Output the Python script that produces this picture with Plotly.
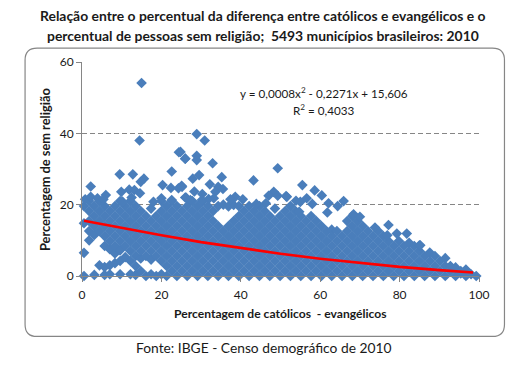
import plotly.graph_objects as go

# Dense body of the cloud
column_x = [0.5, 1.8, 3.1, 4.4, 5.7, 7.0, 8.3, 9.6, 10.9, 12.2, 13.5, 14.8, 16.1, 17.4, 18.7, 20.0, 21.3, 22.6, 23.9,
            25.2, 26.5, 27.8, 29.1, 30.4, 31.7, 33.0, 34.3, 35.6, 36.9, 38.2, 39.5, 40.8, 42.1, 43.4, 44.7, 46.0, 47.3,
            48.6, 49.9, 51.2, 52.5, 53.8, 55.1, 56.4, 57.7, 59.0, 60.3, 61.6, 62.9, 64.2, 65.5, 66.8, 68.1, 69.4, 70.7,
            72.0, 73.3, 74.6, 75.9, 77.2, 78.5, 79.8, 81.1, 82.4, 83.7, 85.0, 86.3, 87.6, 88.9, 90.2, 91.5, 92.8, 94.1,
            95.4, 96.7, 98.0, 99.3]
column_y = [
    [0, 6.5, 14.8, 19.6],
    [10, 12.6, 15.4, 18.2, 21],
    [0.3, 11.5, 14, 16.8, 19.6],
    [3, 12.6, 15.4, 18.2, 21],
    [0.3, 2.5, 8.4, 11.2, 14, 16.8, 19.6],
    [0.5, 3, 7.5, 9.8, 12.6, 15.4, 18.2],
    [3.6, 6.3, 8.4, 11.2, 14, 16.8, 19.6],
    [0.5, 4.2, 7.2, 9.8, 12.6, 15.4, 18.2, 21],
    [5.3, 8.4, 11.2, 14, 16.8, 19.6],
    [0.5, 4.2, 7, 9.8, 12.6, 15.4, 18.2, 21],
    [0.3, 2.8, 5.6, 8.4, 11.2, 14, 16.8, 19.6],
    [1.4, 4.9, 7, 9.8, 12.6, 15.4, 18.2],
    [0, 5.6, 8.4, 11.2, 14, 16.8],
    [0.5, 4.6, 7, 9.8, 12.6, 15.4, 18.9],
    [0, 5.6, 8.4, 11.2, 14, 16.8],
    [0.5, 4.2, 7, 9.8, 12.6, 15.4, 18.2, 21],
    [0, 2.8, 5.6, 8.4, 11.2, 14, 16.8, 19.6],
    [1.4, 4.2, 7, 9.8, 12.6, 15.4, 18.2, 21],
    [0, 2.8, 5.6, 8.4, 11.2, 14, 16.8, 19.6],
    [1.4, 4.2, 7, 9.8, 12.6, 15.4, 18.2],
    [0, 2.8, 5.6, 8.4, 11.2, 14, 16.8, 19.6],
    [1.4, 4.2, 7, 9.8, 12.6, 15.4, 18.2, 21],
    [0, 2.8, 5.6, 8.4, 11.2, 14, 16.8, 19.6],
    [1.4, 4.2, 7, 9.8, 12.6, 15.4, 18.2, 21],
    [0, 2.8, 5.6, 8.4, 11.2, 14, 16.8, 19.6],
    [1.4, 4.2, 7, 9.8, 12.6, 15.4, 18.2],
    [0, 2.8, 5.6, 8.4, 11.2, 14, 19.6],
    [1.4, 4.2, 7, 9.8, 12.6, 20],
    [0, 2.8, 5.6, 8.4, 11.2, 14, 19.5],
    [1.4, 4.2, 7, 9.8, 12.6, 15.4, 19.9],
    [0, 2.8, 5.6, 8.4, 11.2, 14, 16.8, 19.6],
    [1.4, 4.2, 7, 9.8, 12.6, 15.4, 18.2],
    [0, 2.8, 5.6, 8.4, 11.2, 14, 16.8, 19.6],
    [1.4, 4.2, 7, 9.8, 12.6, 15.4, 18.2],
    [0, 2.8, 5.6, 8.4, 11.2, 14, 16.8, 19.6],
    [1.4, 4.2, 7, 9.8, 12.6, 15.4, 18.2],
    [0, 2.8, 5.6, 8.4, 11.2, 14, 16.8],
    [1.4, 4.2, 7, 9.8, 12.6, 15.4, 18.9],
    [0, 2.8, 5.6, 8.4, 11.2, 14, 16.8],
    [1.4, 4.2, 7, 9.8, 12.6, 15.4, 18.2],
    [0, 2.8, 5.6, 8.4, 11.2, 14, 16.8, 19.6],
    [1.4, 4.2, 7, 9.8, 12.6, 15.4, 18.2],
    [0, 2.8, 5.6, 8.4, 11.2, 14, 16.8],
    [1.4, 4.2, 7, 9.8, 12.6, 15.4],
    [0, 2.8, 5.6, 8.4, 11.2, 14, 16.8],
    [1.4, 4.2, 7, 9.8, 12.6, 15.4],
    [0, 2.8, 5.6, 8.4, 11.2, 14],
    [1.4, 4.2, 7, 9.8, 12.6],
    [0, 2.8, 5.6, 8.4, 11.2, 13],
    [1.4, 4.2, 7, 9.8, 12.6],
    [0, 2.8, 5.6, 8.4, 11.2],
    [1.4, 4.2, 7, 9.8, 12.6, 15.4],
    [0, 2.8, 5.6, 8.4, 11.2, 14, 16.8],
    [1.4, 4.2, 7, 9.8, 12.6, 15.4],
    [0, 2.8, 5.6, 8.4, 11.2, 14],
    [1.4, 4.2, 7, 9.8, 12.6],
    [0, 2.8, 5.6, 8.4, 11.2],
    [1.4, 4.2, 7, 9.8, 12.6],
    [0, 2.8, 5.6, 8.4, 11.2],
    [1.4, 4.2, 7, 9.8],
    [0, 2.8, 5.6, 8.4],
    [1.4, 4.2, 7, 9.8],
    [0, 2.8, 5.6, 8.4],
    [1.4, 4.2, 7, 9.3],
    [0, 2.8, 5.6, 8.4],
    [1.4, 4.2, 7, 8.6],
    [0, 2.8, 5.6],
    [1.4, 4.2, 6.6],
    [0, 2.8, 5.6],
    [1.4, 4.2],
    [0, 2.8, 5],
    [1.4, 2.8],
    [0, 2.4],
    [0.7, 1.4],
    [0, 1.8],
    [0.5],
    [0],
]

# Individually visible diamonds above the cloud
outlier_x = [15.0, 14.5, 9.5, 12.8, 15.6, 14.8, 22.6, 24.4, 26.0, 2.2, 9.9, 11.9, 13.2, 14.6, 20.3, 22.4, 24.3, 25.1,
             12.5, 10.2, 0.8, 2.2, 3.9, 6.0, 5.4, 18.0, 20.0, 22.6, 26.0, 28.9, 30.9, 26.0, 28.9, 28.9, 32.9, 24.8,
             35.2, 29.5, 27.9, 32.2, 25.2, 28.3, 43.2, 49.3, 34.3, 35.5, 33.6, 30.3, 26.2, 33.2, 38.6, 40.5, 37.4,
             48.3, 47.0, 49.3, 51.4, 43.9, 46.3, 27.3, 30.2, 31.9, 55.5, 58.6, 60.4, 62.1, 65.9, 64.4, 51.6, 53.9,
             56.6, 55.0, 58.0, 54.7, 61.8, 68.4, 70.0, 77.2, 73.8, 76.9, 81.8, 79.3, 85.2]
outlier_y = [54.1, 38.0, 28.5, 28.5, 27.3, 26.4, 29.3, 34.7, 32.9, 25.1, 23.6, 24.2, 24.1, 23.2, 25.5, 24.7, 24.6, 25.3,
             22.0, 20.9, 21.5, 22.2, 21.8, 22.7, 21.5, 20.8, 21.8, 21.3, 22.0, 39.8, 38.0, 32.9, 33.7, 32.5, 31.6, 34.8,
             27.7, 28.3, 27.3, 25.7, 25.0, 23.7, 26.8, 30.2, 25.0, 24.4, 23.6, 23.0, 22.0, 21.8, 22.2, 21.5, 21.5,
             23.6, 22.5, 22.5, 22.4, 20.2, 20.4, 21.3, 21.3, 21.6, 25.5, 24.0, 22.6, 20.4, 21.0, 19.6, 22.2, 21.1,
             21.8, 20.8, 20.2, 18.0, 17.8, 17.3, 16.6, 14.3, 13.6, 11.4, 11.9, 11.9, 8.6]

trend_x = [0.5, 10, 20, 30, 40, 50, 60, 70, 80, 90, 98.5]
trend_y = [15.5, 13.4, 11.4, 9.5, 7.8, 6.25, 4.85, 3.6, 2.55, 1.65, 1.0]

x_ticks = [0, 20, 40, 60, 80, 100]
y_ticks = [0, 20, 40, 60]

title_lines = ["Relação entre o percentual da diferença entre católicos e evangélicos e o",
               "percentual de pessoas sem religião;  5493 municípios brasileiros: 2010"]
x_title = "Percentagem de católicos  - evangélicos"
y_title = "Percentagem de sem religião"
source = "Fonte: IBGE - Censo demográfico de 2010"
equation = "y = 0,0008x<sup>2</sup> - 0,2271x + 15,606"
r_squared = "R<sup>2</sup> = 0,4033"

pts_x = [x for x, ys in zip(column_x, column_y) for _ in ys] + outlier_x
pts_y = [y for ys in column_y for y in ys] + outlier_y

W, H = 525, 366
L, R, T, B = 81.5, 46, 62.3, 90.3
PW, PH = W - L - R, H - T - B
FONT = "Lato"
INK = "#1a1a1a"
GREY = "#868686"


def px(v):
    return (v - L) / PW


def py(v):
    return (H - B - v) / PH


fig = go.Figure()
fig.add_trace(go.Scatter(x=pts_x, y=pts_y, mode="markers", cliponaxis=False,
                         marker=dict(symbol="diamond", size=8.2, color="#4a7ebb", line=dict(width=0)),
                         showlegend=False))
fig.add_trace(go.Scatter(x=trend_x, y=trend_y, mode="lines", cliponaxis=False,
                         line=dict(color="#ff0000", width=2.6), showlegend=False))

# rounded chart frame
fl, fr, ft, fb, rx = 24.5, 504.5, 48.5, 336, 12
frame = (f"M {px(fl + rx)} {py(ft)} L {px(fr - rx)} {py(ft)} Q {px(fr)} {py(ft)} {px(fr)} {py(ft + rx)} "
         f"L {px(fr)} {py(fb - rx)} Q {px(fr)} {py(fb)} {px(fr - rx)} {py(fb)} "
         f"L {px(fl + rx)} {py(fb)} Q {px(fl)} {py(fb)} {px(fl)} {py(fb - rx)} "
         f"L {px(fl)} {py(ft + rx)} Q {px(fl)} {py(ft)} {px(fl + rx)} {py(ft)} Z")
fig.add_shape(type="path", path=frame, xref="paper", yref="paper", layer="below",
              line=dict(color=GREY, width=1.2), fillcolor="white")


def note(text, x, y, size, bold=False, angle=0, color=INK):
    fig.add_annotation(text=f"<b>{text}</b>" if bold else text, x=px(x), y=py(y), xref="paper", yref="paper",
                       showarrow=False, textangle=angle, xanchor="center", yanchor="middle",
                       font=dict(family=FONT, size=size, color=color))


note(title_lines[0], 262.5, 15.5, 13.9, bold=True)
note(title_lines[1], 262.5, 35.5, 13.9, bold=True)
note(x_title, 280, 313, 12.1, bold=True)
note(y_title, 44.5, 170, 12.8, bold=True, angle=-90)
note(source, 263, 347, 13.8)
note(equation, 324, 93, 11.7)
note(r_squared, 324, 110, 11.7)

axis_common = dict(showline=True, linecolor=GREY, linewidth=1, ticks="outside", ticklen=5, tickcolor=GREY,
                   tickwidth=1, tickfont=dict(family=FONT, size=12, color=INK), zeroline=False)
fig.update_xaxes(range=[0, 100], tickvals=x_ticks, showgrid=False, ticklabelstandoff=3, **axis_common)
fig.update_yaxes(range=[0, 60], tickvals=y_ticks, showgrid=True, gridcolor=GREY, griddash="5px,3px", gridwidth=1,
                 **axis_common)
fig.update_layout(width=W, height=H, margin=dict(l=L, r=R, t=T, b=B, pad=0), paper_bgcolor="white",
                  plot_bgcolor="rgba(0,0,0,0)", showlegend=False, font=dict(family=FONT))
fig.write_html("out.html", config={"displayModeBar": False}, post_script="document.body.style.margin='0';")
